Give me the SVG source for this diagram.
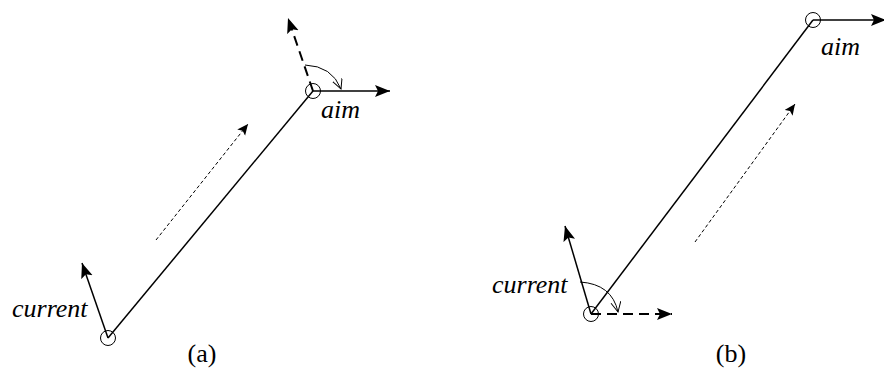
<svg xmlns="http://www.w3.org/2000/svg" width="884" height="390" viewBox="0 0 884 390">
  <style>
    .ln { fill: none; stroke: #000; stroke-width: 1.5; }
    .dash { fill: none; stroke: #000; stroke-width: 2; stroke-dasharray: 10 6; }
    .dot { fill: none; stroke: #000; stroke-width: 1; stroke-dasharray: 3.5 2.5; }
    .pt { fill: none; stroke: #000; stroke-width: 1; }
    text { font-family: 'Liberation Serif', 'Times New Roman', serif; fill: #000; }
    .lbl { font-style: italic; font-size: 26px; }
    .cap { font-size: 26px; }
  </style>
  <defs>
    <marker id="head" markerUnits="userSpaceOnUse" markerWidth="18" markerHeight="14" refX="15" refY="6" orient="auto">
      <path d="M0,0 L15,6 L0,12 L3,6 Z" fill="#000"/>
    </marker>
    <marker id="headSmall" markerUnits="userSpaceOnUse" markerWidth="14" markerHeight="12" refX="11" refY="5" orient="auto">
      <path d="M0,0 L11,5 L0,10 L2.5,5 Z" fill="#000"/>
    </marker>
    <marker id="vee" markerUnits="userSpaceOnUse" markerWidth="14" markerHeight="14" refX="10" refY="5" orient="auto">
      <path d="M0,0 L10,5 L0,10" fill="none" stroke="#000" stroke-width="1"/>
    </marker>
  </defs>

  <!-- panel (a) -->
  <g id="a-current">
    <circle class="pt" cx="108" cy="338" r="7.5"/>
    <text class="lbl" x="12" y="317">current</text>
  </g>
  <g id="a-aim">
    <circle class="pt" cx="313" cy="91" r="7.5"/>
    <text class="lbl" x="321" y="118">aim</text>
  </g>
  <text id="a-caption" class="cap" x="202" y="362" text-anchor="middle">(a)</text>

  <!-- panel (b) -->
  <g id="b-current">
    <circle class="pt" cx="591" cy="314" r="7.5"/>
    <text class="lbl" x="492" y="293">current</text>
  </g>
  <g id="b-aim">
    <circle class="pt" cx="813" cy="20" r="7.5"/>
    <text class="lbl" x="821" y="55">aim</text>
  </g>
  <text id="b-caption" class="cap" x="731" y="362" text-anchor="middle">(b)</text>

  <g id="connectors">
    <!-- (a) -->
    <line class="ln" x1="108" y1="338" x2="313" y2="91"/>
    <line class="ln" x1="108" y1="338" x2="82" y2="263" marker-end="url(#head)"/>
    <line class="ln" x1="313" y1="91" x2="390" y2="91" marker-end="url(#head)"/>
    <line class="dash" x1="313" y1="91" x2="288" y2="18" marker-end="url(#head)"/>
    <path class="pt" d="M305,65 Q332,66 341,89" marker-end="url(#vee)"/>
    <line class="dot" x1="156" y1="240" x2="248" y2="124" marker-end="url(#headSmall)"/>
    <!-- (b) -->
    <line class="ln" x1="591" y1="314" x2="813" y2="20"/>
    <line class="ln" x1="591" y1="314" x2="565" y2="226" marker-end="url(#head)"/>
    <line class="dash" x1="591" y1="314" x2="672" y2="314" marker-end="url(#head)"/>
    <path class="pt" d="M580,282 Q612,284 618,312" marker-end="url(#vee)"/>
    <line class="ln" x1="813" y1="20" x2="886" y2="20" marker-end="url(#head)"/>
    <line class="dot" x1="695" y1="242" x2="795" y2="104" marker-end="url(#headSmall)"/>
  </g>
</svg>
